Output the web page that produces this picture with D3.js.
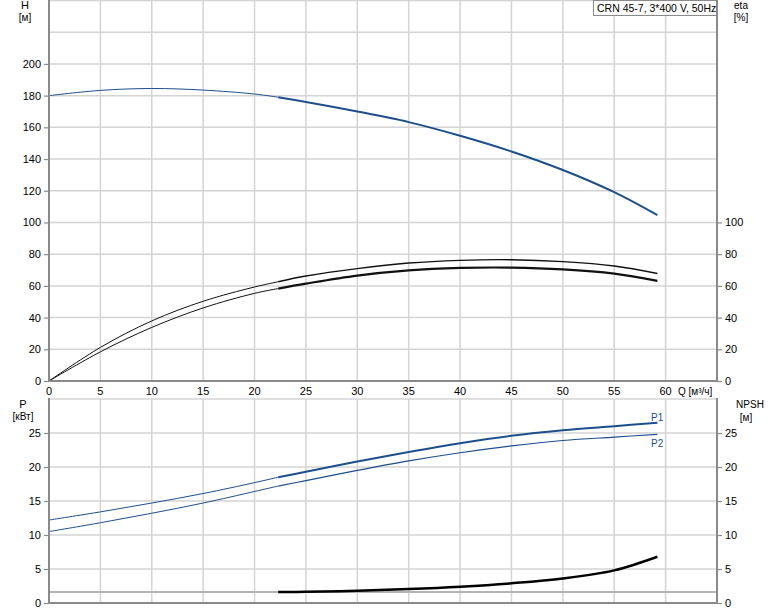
<!DOCTYPE html>
<html><head><meta charset="utf-8">
<script src="https://cdn.jsdelivr.net/npm/d3@7"></script>
<style>body{margin:0;background:#fff}svg{display:block;font-family:"Liberation Sans",Arial,sans-serif}</style>
</head><body>
<svg id="c" width="774" height="611"></svg>
<script>
const title = "CRN 45-7, 3*400 V, 50Hz";
const Q     = [0, 5, 10, 15, 20, 22.3, 25, 30, 35, 40, 45, 50, 55, 59.2];
const H     = [180, 183.3, 184.5, 183.5, 181, 179, 176, 170, 163.3, 154.7, 144.8, 133.1, 119.1, 104.6];
const eta1  = [0, 21.2, 37.9, 50.3, 59.3, 62.6, 66.2, 70.9, 74.4, 76.1, 76.5, 75.3, 72.5, 67.8];
const eta2  = [0, 18.4, 33.8, 46.1, 55.3, 58.3, 61.4, 66.5, 69.8, 71.3, 71.5, 70.4, 67.7, 63.2];
const P1    = [12.2, 13.4, 14.7, 16.1, 17.7, 18.5, 19.3, 20.8, 22.2, 23.5, 24.6, 25.4, 26.0, 26.5];
const P2    = [10.5, 11.8, 13.2, 14.7, 16.4, 17.2, 18.0, 19.5, 20.9, 22.1, 23.1, 23.9, 24.4, 24.8];
const Qnpsh = [22.3, 25, 30, 35, 40, 45, 50, 55, 59.2];
const NPSH  = [1.6, 1.65, 1.8, 2.05, 2.4, 2.9, 3.6, 4.8, 6.8];
const npshRef = 1.6;
const opStart = 22.3;
const xTicks = [0,5,10,15,20,25,30,35,40,45,50,55,60];
const hTicks = [0,20,40,60,80,100,120,140,160,180,200];
const etaTicks = [0,20,40,60,80,100];
const pTicks = [0,5,10,15,20,25];

const svg = d3.select("#c");
const L = 49, R = 717;
const x = d3.scaleLinear().domain([0,65]).range([L,R]);
const yT = d3.scaleLinear().domain([0,240]).range([381,0.5]);
const yB = d3.scaleLinear().domain([0,30]).range([603,399]);
const grid = "#d4d4d4", axisC = "#8a8a8a", blue = "#1d4f8c";

function panel(y, yMax, top, bottom, stepY){
  const g = svg.append("g");
  g.selectAll(null).data(d3.range(stepY, yMax+0.001, stepY)).join("line")
    .attr("x1",L).attr("x2",R).attr("y1",d=>y(d)).attr("y2",d=>y(d))
    .attr("stroke",grid).attr("stroke-width",1.5);
  g.selectAll(null).data(d3.range(5,61,5)).join("line")
    .attr("x1",d=>x(d)).attr("x2",d=>x(d)).attr("y1",top).attr("y2",bottom)
    .attr("stroke",grid).attr("stroke-width",1.5);
  return g;
}
panel(yT, 240, 0, 381, 20);
panel(yB, 30, 399, 603, 5);

const mkLine = yS => d3.line().x(d=>x(d[0])).y(d=>yS(d[1])).curve(d3.curveCatmullRom.alpha(0.5));
function drawCurve(xs, ys, yS, color, wThin, wThick){
  const pts = xs.map((q,i)=>[q,ys[i]]);
  const thin = pts.filter(p=>p[0]<=opStart), thick = pts.filter(p=>p[0]>=opStart);
  if (thin.length>1) svg.append("path").attr("d",mkLine(yS)(thin)).attr("fill","none").attr("stroke",color).attr("stroke-width",wThin);
  svg.append("path").attr("d",mkLine(yS)(thick)).attr("fill","none").attr("stroke",color).attr("stroke-width",wThick).attr("stroke-linecap","butt");
}
svg.append("line").attr("x1",L).attr("x2",R).attr("y1",yB(npshRef)).attr("y2",yB(npshRef)).attr("stroke","#b4b4b4").attr("stroke-width",2);

drawCurve(Q, H, yT, blue, 1, 2);
drawCurve(Q, eta1, yT, "#111", 1, 1.4);
drawCurve(Q, eta2, yT, "#111", 1, 2.2);
drawCurve(Q, P1, yB, blue, 1, 2);
drawCurve(Q, P2, yB, blue, 1, 1.2);
drawCurve(Qnpsh, NPSH, yB, "#000", 2, 2.5);

function axesLines(y0, top){
  svg.append("line").attr("x1",L).attr("x2",L).attr("y1",top).attr("y2",y0+1).attr("stroke",axisC).attr("stroke-width",2);
  svg.append("line").attr("x1",R).attr("x2",R).attr("y1",top).attr("y2",y0+1).attr("stroke",axisC).attr("stroke-width",2);
  svg.append("line").attr("x1",L-1).attr("x2",R+1).attr("y1",y0).attr("y2",y0).attr("stroke",axisC).attr("stroke-width",2);
}
axesLines(381, 0);
axesLines(603, 398);

function yAxis(scale, ticks, side){
  const ax = (side==="left"? d3.axisLeft(scale) : d3.axisRight(scale)).tickValues(ticks).tickSize(5).tickPadding(3).tickFormat(d3.format("d"));
  const g = svg.append("g").attr("transform",`translate(${side==="left"?L:R},0)`).call(ax);
  g.select(".domain").remove();
  g.selectAll(".tick line").attr("stroke",axisC).attr("stroke-width",1.2);
  g.selectAll("text").attr("font-size",11).attr("fill","#000").attr("font-family","Liberation Sans, Arial, sans-serif");
}
yAxis(yT, hTicks, "left");
yAxis(yT, etaTicks, "right");
yAxis(yB, pTicks, "left");
yAxis(yB, pTicks, "right");

svg.append("g").selectAll("text").data(xTicks).join("text")
  .attr("x",d=>x(d)).attr("y",395).attr("text-anchor","middle").attr("font-size",11).text(d=>d);
svg.append("text").attr("x",678).attr("y",395).attr("font-size",10).text("Q [м³/ч]");

function t(xp, yp, s, anchor="middle", size=11){ svg.append("text").attr("x",xp).attr("y",yp).attr("text-anchor",anchor).attr("font-size",size).text(s); }
t(25,9,"H"); t(25,21,"[м]",  "middle",10);
t(741,9,"eta",  "middle",10); t(741,21,"[%]","middle",10);
t(23,408,"P"); t(23,420,"[кВт]","middle",10);
t(750,408,"NPSH","middle",10); t(746,421,"[м]","middle",10);

svg.append("text").attr("x",651).attr("y",421).attr("font-size",10).attr("fill",blue).text("P1");
svg.append("text").attr("x",651).attr("y",447).attr("font-size",10).attr("fill",blue).text("P2");

svg.append("rect").attr("x",593.5).attr("y",0.5).attr("width",123).attr("height",15).attr("fill","#fff").attr("stroke","#8a8a8a");
svg.append("text").attr("x",597).attr("y",12).attr("font-size",10.5).text(title);
</script>
</body></html>
